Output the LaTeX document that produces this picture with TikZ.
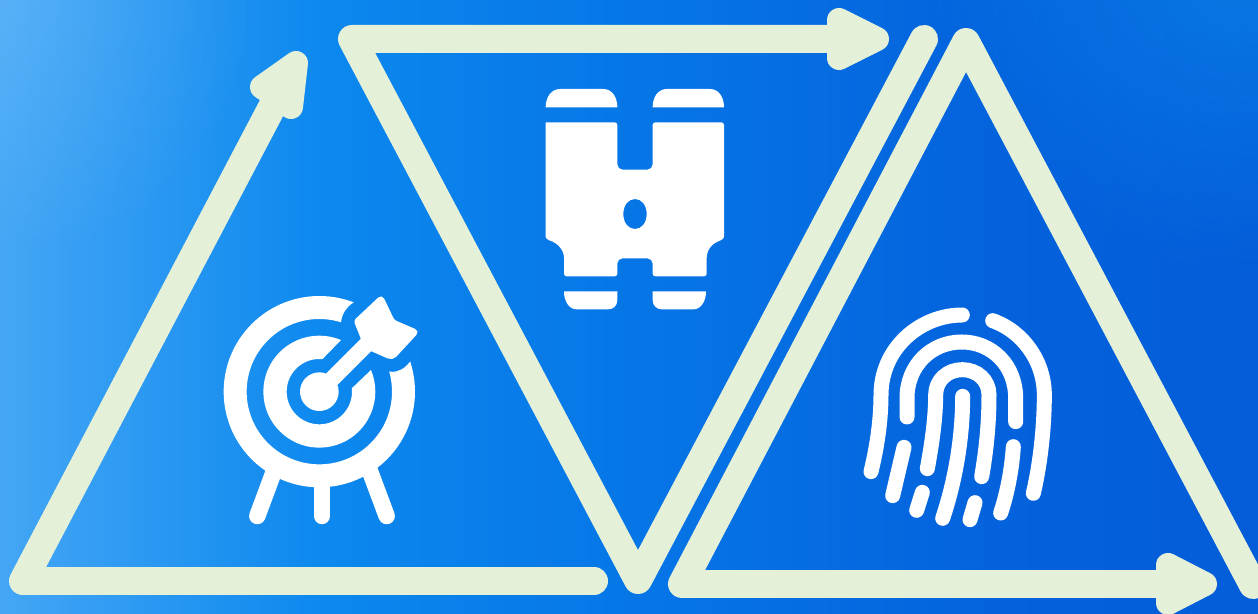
\documentclass[tikz,border=0pt]{standalone}
\usetikzlibrary{fadings}
\definecolor{trackgreen}{RGB}{228,240,215}
\definecolor{glowblue}{RGB}{150,210,255}
\definecolor{glowtop}{RGB}{10,135,235}
\definecolor{bgone}{RGB}{68,166,245}
\definecolor{bgtwo}{RGB}{12,136,238}
\definecolor{bgthree}{RGB}{6,118,231}
\definecolor{bgfour}{RGB}{4,98,220}
\definecolor{bgfive}{RGB}{4,92,216}
\pgfdeclarehorizontalshading{bgblue}{100bp}{
  color(0bp)=(bgone);
  color(25bp)=(bgone);
  color(38bp)=(bgtwo);
  color(50bp)=(bgthree);
  color(65bp)=(bgfour);
  color(75bp)=(bgfive);
  color(100bp)=(bgfive)}
\tikzfading[name=glowfade,inner color=transparent!75,outer color=transparent!100]
\tikzfading[name=topfade,inner color=transparent!30,outer color=transparent!100]
\tikzset{
  trackline/.style={draw=trackgreen,line width=0.56cm,line cap=round,line join=round},
  trackhead/.style={fill=trackgreen,draw=trackgreen,line width=0.48cm,line join=round},
  iconfill/.style={fill=white,even odd rule},
  legline/.style={draw=white,line width=0.33cm,line cap=round},
  printline/.style={draw=white,line width=0.3cm,line cap=round}
}
\begin{document}
\begin{tikzpicture}[x=0.02cm,y=-0.02cm]

    \useasboundingbox (0,0) rectangle (1258,614);

    % 底色渐变
    \begin{scope}
      \clip (0,0) rectangle (1258,614);
      \shade[shading=bgblue] (0,0) rectangle (1258,614);
      \fill[glowblue,path fading=glowfade] (0,0) circle (260);
      \fill[glowtop,path fading=topfade] (1258,-60) circle (340);
    \end{scope}

    % 三角形顶点
    \coordinate (leftend) at (594,581);
    \coordinate (leftbase) at (23,581);
    \coordinate (lefttop) at (281,90);
    \coordinate (midstart) at (352,39);
    \coordinate (midtip) at (850,39);
    \coordinate (midbase) at (638,580);
    \coordinate (midend) at (924,39);
    \coordinate (rightend) at (1253,585);
    \coordinate (righttop) at (966,42);
    \coordinate (rightbase) at (682,584);
    \coordinate (righttip) at (1180,584);

    % 左三角
    \draw[trackline] (leftend) -- (leftbase) -- (lefttop);
    \draw[trackhead] (296,63) -- (262,87) -- (291,107) -- cycle;

    % 中三角
    \draw[trackline] (midtip) -- (midstart) -- (midbase) -- (midend);
    \draw[trackhead] (877,39) -- (839,20) -- (839,58) -- cycle;

    % 右三角
    \draw[trackline] (rightend) -- (righttop) -- (rightbase) -- (righttip);
    \draw[trackhead] (1205,584) -- (1168,565) -- (1168,603) -- cycle;

    % 靶心
    \begin{scope}[shift={(210,280)},scale=0.33333]
      \begin{scope}
        \clip (-100,-100) -- (-100,800) -- (800,800) -- (800,-100) -- cycle
          (330,245) -- (395,178) -- (393,125) .. controls (397,100) and (410,80) .. (430,68)
          -- (520,0) -- (660,100) -- (600,245) .. controls (585,265) and (565,278) .. (540,275)
          -- (485,268) -- (418,332) -- cycle;
        \fill[iconfill] (328,335) circle (287) (328,335) circle (218);
        \fill[iconfill] (328,335) circle (168) (328,335) circle (98);
      \end{scope}
      \fill[white] (328,335) circle (58);
      \draw[white,line width=0.32cm] (328,335) -- (490,173);
      \fill[white] (480,212) -- (454,180)
        [rounded corners=1.5pt] -- (431,122)
        [rounded corners=3pt] -- (516,42)
        [rounded corners=1.5pt] -- (553,120)
        [rounded corners=3pt] -- (630,153) -- (548,242)
        [sharp corners] -- cycle;
      \draw[legline] (197,560) -- (142,708);
      \draw[legline] (336,600) -- (336,708);
      \draw[legline] (471,550) -- (530,708);
    \end{scope}

    % 望远镜
    \begin{scope}[shift={(530,75)},scale=0.33333]
      \fill[iconfill] (47,97) .. controls (47,65) and (65,42) .. (90,42) -- (220,42)
        .. controls (245,42) and (262,65) .. (262,97) -- cycle;
      \fill[iconfill] (368,97) .. controls (368,65) and (385,42) .. (410,42) -- (540,42)
        .. controls (565,42) and (582,65) .. (582,97) -- cycle;
      \fill[iconfill,rounded corners=1.5pt] (47,142) -- (262,142)
        [rounded corners=3pt] -- (262,284) -- (368,284)
        [rounded corners=1.5pt] -- (368,142) -- (582,142)
        [sharp corners] -- (582,485) .. controls (582,490) and (578,493) .. (572,496)
        .. controls (545,505) and (530,525) .. (530,550)
        [rounded corners=1.5pt] -- (530,604) -- (368,604)
        [rounded corners=3pt] -- (368,550) -- (262,550)
        [rounded corners=1.5pt] -- (262,604) -- (102,604)
        [sharp corners] -- (102,550) .. controls (102,525) and (85,505) .. (58,496)
        .. controls (52,493) and (47,490) .. (47,485) -- cycle
        (315,372) .. controls (335,372) and (350,390) .. (350,417)
        .. controls (350,444) and (335,462) .. (315,462)
        .. controls (295,462) and (280,444) .. (280,417)
        .. controls (280,390) and (295,372) .. (315,372) -- cycle;
      \fill[iconfill] (102,649) -- (262,649) -- (262,675) .. controls (262,692) and (250,703) .. (235,703)
        -- (140,703) .. controls (118,703) and (102,680) .. (102,649) -- cycle;
      \fill[iconfill] (528,649) -- (368,649) -- (368,675) .. controls (368,692) and (380,703) .. (395,703)
        -- (490,703) .. controls (512,703) and (528,680) .. (528,649) -- cycle;
    \end{scope}

    % 指纹
    \begin{scope}[shift={(850,295)},scale=0.33333]
      \draw[printline] (63,530) .. controls (85,440) and (93,360) .. (93,300)
        .. controls (93,160) and (210,60) .. (337,60);
      \draw[printline] (428,77) .. controls (520,110) and (583,200) .. (583,300)
        .. controls (583,400) and (570,510) .. (550,595);
      \draw[printline] (171,366) -- (171,310) .. controls (171,210) and (245,141) .. (335,141)
        .. controls (425,141) and (497,210) .. (497,310) -- (497,380);
      \draw[printline] (232,521) .. controls (245,450) and (257,370) .. (257,300)
        .. controls (257,255) and (293,224) .. (337,224)
        .. controls (381,224) and (417,255) .. (417,300)
        .. controls (417,390) and (408,470) .. (395,545);
      \draw[printline] (338,304) .. controls (338,430) and (315,560) .. (278,670);
      \draw[printline] (162,457) -- (128,602);
      \draw[printline] (217,592) -- (200,646);
      \draw[printline] (375,623) -- (360,674);
      \draw[printline] (490,455) .. controls (485,530) and (470,600) .. (452,654);
    \end{scope}

  \end{tikzpicture}
\end{document}
